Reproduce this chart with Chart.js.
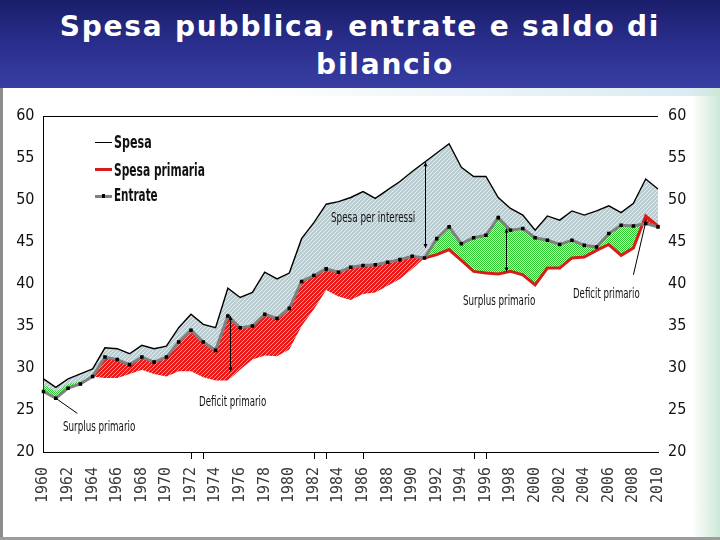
<!DOCTYPE html>
<html><head><meta charset="utf-8">
<script src="https://cdn.jsdelivr.net/npm/chart.js@4.4.1/dist/chart.umd.min.js"></script>
<style>
html,body{margin:0;padding:0;}
body{width:720px;height:540px;position:relative;overflow:hidden;background:#fff;font-family:'Liberation Sans Narrow','DejaVu Sans Condensed','Liberation Sans',sans-serif;}
#bar{position:absolute;left:0;top:0;width:720px;height:88px;background:linear-gradient(#1b1e6a,#2b3090 55%,#383ea2);}
.t{position:absolute;left:0;width:720px;text-align:center;color:#fff;font:bold 28px 'DejaVu Sans',sans-serif;line-height:28px;letter-spacing:1.8px;white-space:nowrap;}
#frameL{position:absolute;left:0;top:88px;width:3px;height:452px;background:#8c8c8c}
#frameB{position:absolute;left:0;top:537px;width:720px;height:3px;background:#9c9c9c}
#edgeR{position:absolute;right:0;top:88px;width:28px;height:452px;background:linear-gradient(to right, rgba(215,238,224,0), #cde8d6);}
#wm{position:absolute;left:240px;top:88px;width:480px;height:8px;background:linear-gradient(to right, rgba(200,225,235,0), rgba(200,225,235,0.7));}
canvas{position:absolute;left:0;top:0;}
.lbl{position:absolute;white-space:nowrap;transform-origin:0 0;color:#111;}
.leg{font-weight:bold;font-size:17px;line-height:17px;}
.ann{font-size:14px;line-height:14px;}
.sw{position:absolute;}
</style></head>
<body>
<div id="bar"></div>
<div class="t" style="top:13px;">Spesa pubblica, entrate e saldo di</div>
<div class="t" style="top:51px;padding-left:50px;box-sizing:border-box;">bilancio</div>
<div id="wm"></div>
<div id="edgeR"></div>
<div id="frameL"></div>
<div id="frameB"></div>
<canvas id="c" width="720" height="540"></canvas>

<div class="sw" style="left:95px;top:141.5px;width:17px;height:1.5px;background:#000;"></div>
<div class="sw" style="left:95px;top:167.5px;width:17px;height:3px;background:#d81c1c;"></div>
<div class="sw" style="left:95px;top:194.5px;width:17px;height:3px;background:#808080;"></div>
<div class="sw" style="left:101.5px;top:194.2px;width:3.5px;height:3.5px;background:#000;"></div>
<div class="lbl leg" data-w="37.7" style="left:114px;top:134px;">Spesa</div>
<div class="lbl leg" data-w="91" style="left:114px;top:161.5px;">Spesa primaria</div>
<div class="lbl leg" data-w="43.7" style="left:114px;top:187.3px;">Entrate</div>

<div class="lbl ann" data-w="84.3" style="left:331px;top:210px;">Spesa per interessi</div>
<div class="lbl ann" data-w="72.3" style="left:463px;top:293px;">Surplus primario</div>
<div class="lbl ann" data-w="66.7" style="left:573.3px;top:286px;">Deficit primario</div>
<div class="lbl ann" data-w="67.3" style="left:199.3px;top:393.5px;">Deficit primario</div>
<div class="lbl ann" data-w="72.3" style="left:62.7px;top:418.5px;">Surplus primario</div>

<script>
// ---- data (% of GDP) ----
const years = ['1960','1961','1962','1963','1964','1965','1966','1967','1968','1969',
  '1970','1971','1972','1973','1974','1975','1976','1977','1978','1979',
  '1980','1981','1982','1983','1984','1985','1986','1987','1988','1989',
  '1990','1991','1992','1993','1994','1995','1996','1997','1998','1999',
  '2000','2001','2002','2003','2004','2005','2006','2007','2008','2009','2010'];

const spesa = [28.7,27.7,28.7,29.3,29.9,32.4,32.3,31.7,32.7,32.3,
  32.6,34.8,36.4,35.2,34.8,39.5,38.4,39.0,41.4,40.6,
  41.3,45.4,47.3,49.5,49.8,50.3,51.0,50.2,51.2,52.2,
  53.4,54.5,55.6,56.7,53.9,52.8,52.8,50.3,49.0,48.2,
  46.4,48.1,47.6,48.7,48.2,48.7,49.3,48.5,49.6,52.5,51.3];

const entrate = [27.2,26.4,27.6,28.1,29.0,31.3,31.0,30.4,31.3,30.7,
  31.3,33.1,34.5,33.1,32.1,36.2,34.8,35.0,36.4,35.9,
  37.1,40.3,41.0,41.8,41.4,42.0,42.2,42.3,42.6,42.9,
  43.3,43.1,45.4,46.8,44.8,45.5,45.8,47.9,46.4,46.6,
  45.5,45.2,44.7,45.2,44.6,44.4,46.0,47.0,46.9,47.2,46.8];

const spesaPrimaria = [null,null,null,null,null,null,null,null,null,null,
  null,null,null,null,null,null,null,null,null,null,
  null,null,null,null,null,null,null,null,null,null,
  null,43.1,43.5,44.1,42.8,41.5,41.3,41.2,41.5,41.1,
  39.9,41.9,41.9,43.1,43.2,44.0,44.7,43.4,44.3,48.1,46.9];

// edge of the primary-balance band drawn against "Entrate" before 1991
const bandaSaldoPrimario = [28.0,27.2,28.1,28.4,29.0,28.8,28.8,29.3,29.8,29.3,
  29.0,29.6,29.6,28.9,28.5,28.5,29.8,31.0,31.5,31.4,
  32.2,35.0,37.0,39.3,38.5,38.1,38.8,39.0,39.8,40.6,
  41.8,43.1,null,null,null,null,null,null,null,null,
  null,null,null,null,null,null,null,null,null,null,null];
const surplusBandEnd = '1964'; // green before, red after

const yTicks = [20,25,30,35,40,45,50,55,60];

// annotations (years, values)
const arrows = [
  {year: 1991.05, from: 54.5, to: 44.3},
  {year: 1997.6, from: 46.6, to: 41.5},
  {year: 1975.2, from: 36.2, to: 29.6}
];
const leaders = [
  {y1: 1961, v1: 26.4, y2: 1962.75, v2: 24.6},
  {y1: 2009.05, v1: 47.7, y2: 2008.0, v2: 41.1}
];
const markedYears = [1972, 1973, 1982, 1983, 1986, 1995, 1996];

// ---- patterns ----
function pattern(size, draw) {
  const c = document.createElement('canvas');
  c.width = size; c.height = size;
  const g = c.getContext('2d');
  draw(g);
  return document.getElementById('c').getContext('2d').createPattern(c, 'repeat');
}
const redPat = pattern(4, g => {
  g.fillStyle = '#e81a1a'; g.fillRect(0,0,4,4);
  g.fillStyle = '#ff9494';
  for (let i = 0; i < 4; i++) g.fillRect(i, 3 - i, 1, 1);
});
const greenPat = pattern(2, g => {
  g.fillStyle = '#cdf5cd'; g.fillRect(0,0,2,2);
  g.fillStyle = '#30c830'; g.fillRect(0,0,1,1); g.fillRect(1,1,1,1);
});
const greyPat = pattern(4, g => {
  g.fillStyle = '#bccdd1'; g.fillRect(0,0,4,4);
  g.fillStyle = '#e6eef0';
  for (let i = 0; i < 4; i++) g.fillRect(i, 3 - i, 1, 1);
});

const narrow = "'Liberation Sans Narrow','DejaVu Sans Condensed','DejaVu Sans',sans-serif";
const yr = y => y - 1960;

const annotPlugin = {
  id: 'annot',
  afterDatasetsDraw(chart) {
    const g = chart.ctx, xs = chart.scales.x, ys = chart.scales.y;
    g.save();
    g.strokeStyle = '#000'; g.fillStyle = '#000'; g.lineWidth = 1;
    arrows.forEach(a => {
      const x = Math.round(xs.getPixelForValue(yr(a.year))) + 0.5;
      const t = ys.getPixelForValue(a.from), b = ys.getPixelForValue(a.to);
      g.beginPath(); g.moveTo(x, t); g.lineTo(x, b); g.stroke();
      g.beginPath(); g.moveTo(x, t); g.lineTo(x - 2, t + 4); g.lineTo(x + 2, t + 4); g.closePath(); g.fill();
      g.beginPath(); g.moveTo(x, b); g.lineTo(x - 2, b - 4); g.lineTo(x + 2, b - 4); g.closePath(); g.fill();
    });
    leaders.forEach(l => {
      g.beginPath();
      g.moveTo(xs.getPixelForValue(yr(l.y1)), ys.getPixelForValue(l.v1));
      g.lineTo(xs.getPixelForValue(yr(l.y2)), ys.getPixelForValue(l.v2));
      g.stroke();
    });
    const bottom = chart.chartArea.bottom;
    markedYears.forEach(y => {
      const x = Math.round(xs.getPixelForValue(yr(y))) + 0.5;
      g.beginPath(); g.moveTo(x, bottom); g.lineTo(x, bottom + 7); g.stroke();
    });
    g.restore();
  }
};

const yFont = {family: narrow, size: 16, weight: 'condensed'};

new Chart(document.getElementById('c'), {
  type: 'line',
  data: {
    labels: years,
    datasets: [
      {label: 'Entrate', data: entrate, borderColor: '#808080', borderWidth: 3,
       pointStyle: 'rect', pointRadius: 2.5, pointBackgroundColor: '#000', pointBorderWidth: 0,
       fill: false, tension: 0},
      {label: 'Spesa primaria', data: spesaPrimaria, borderColor: '#d81c1c', borderWidth: 3,
       pointRadius: 0, fill: {target: 0, above: redPat, below: greenPat}, tension: 0},
      {label: 'Saldo primario', data: bandaSaldoPrimario, borderWidth: 0, borderColor: 'rgba(0,0,0,0)',
       pointRadius: 0, backgroundColor: redPat, fill: {target: 0}, tension: 0,
       segment: {backgroundColor: c => c.p0DataIndex < years.indexOf(surplusBandEnd) ? greenPat : redPat}},
      {label: 'Spesa', data: spesa, borderColor: '#000', borderWidth: 1.4, pointRadius: 0,
       backgroundColor: greyPat, fill: {target: 0}, tension: 0}
    ]
  },
  options: {
    responsive: false, animation: false, devicePixelRatio: 1,
    layout: {padding: {top: 116, left: 0, right: 0, bottom: 0}},
    plugins: {legend: {display: false}, tooltip: {enabled: false},
              filler: {drawTime: 'beforeDatasetsDraw'}},
    scales: {
      x: {type: 'category', offset: false,
          grid: {display: false, drawTicks: false},
          border: {display: true, color: '#000', width: 1},
          ticks: {autoSkip: false, minRotation: 90, maxRotation: 90, padding: 15,
                  font: {family: "'DejaVu Sans Mono',monospace", size: 15}, color: '#3a3a3a',
                  callback(v, i) { return i % 2 === 0 ? this.getLabelForValue(v) : null; }},
          afterFit(s) { s.height = 88; }},
      y: {position: 'left', min: 20, max: 60,
          afterBuildTicks(s) { s.ticks = yTicks.map(v => ({value: v})); },
          ticks: {padding: 9, font: yFont, color: '#111'},
          grid: {drawTicks: false, lineWidth: 1,
                 color: c => (c.tick && c.tick.value === 60) ? '#000' : 'rgba(0,0,0,0)'},
          border: {display: true, color: '#000', width: 1},
          afterFit(s) { s.width = 43.5; }},
      y2: {position: 'right', min: 20, max: 60,
          afterBuildTicks(s) { s.ticks = yTicks.map(v => ({value: v})); },
          ticks: {padding: 10, font: yFont, color: '#111'},
          grid: {display: false, drawTicks: false},
          border: {display: false},
          afterFit(s) { s.width = 62; }}
    }
  },
  plugins: [annotPlugin]
});

// fit label widths to the reference
document.querySelectorAll('.lbl[data-w]').forEach(el => {
  const w = parseFloat(el.dataset.w);
  const k = w / el.getBoundingClientRect().width;
  el.style.transform = 'scaleX(' + k.toFixed(3) + ')';
});
</script>
</body></html>
